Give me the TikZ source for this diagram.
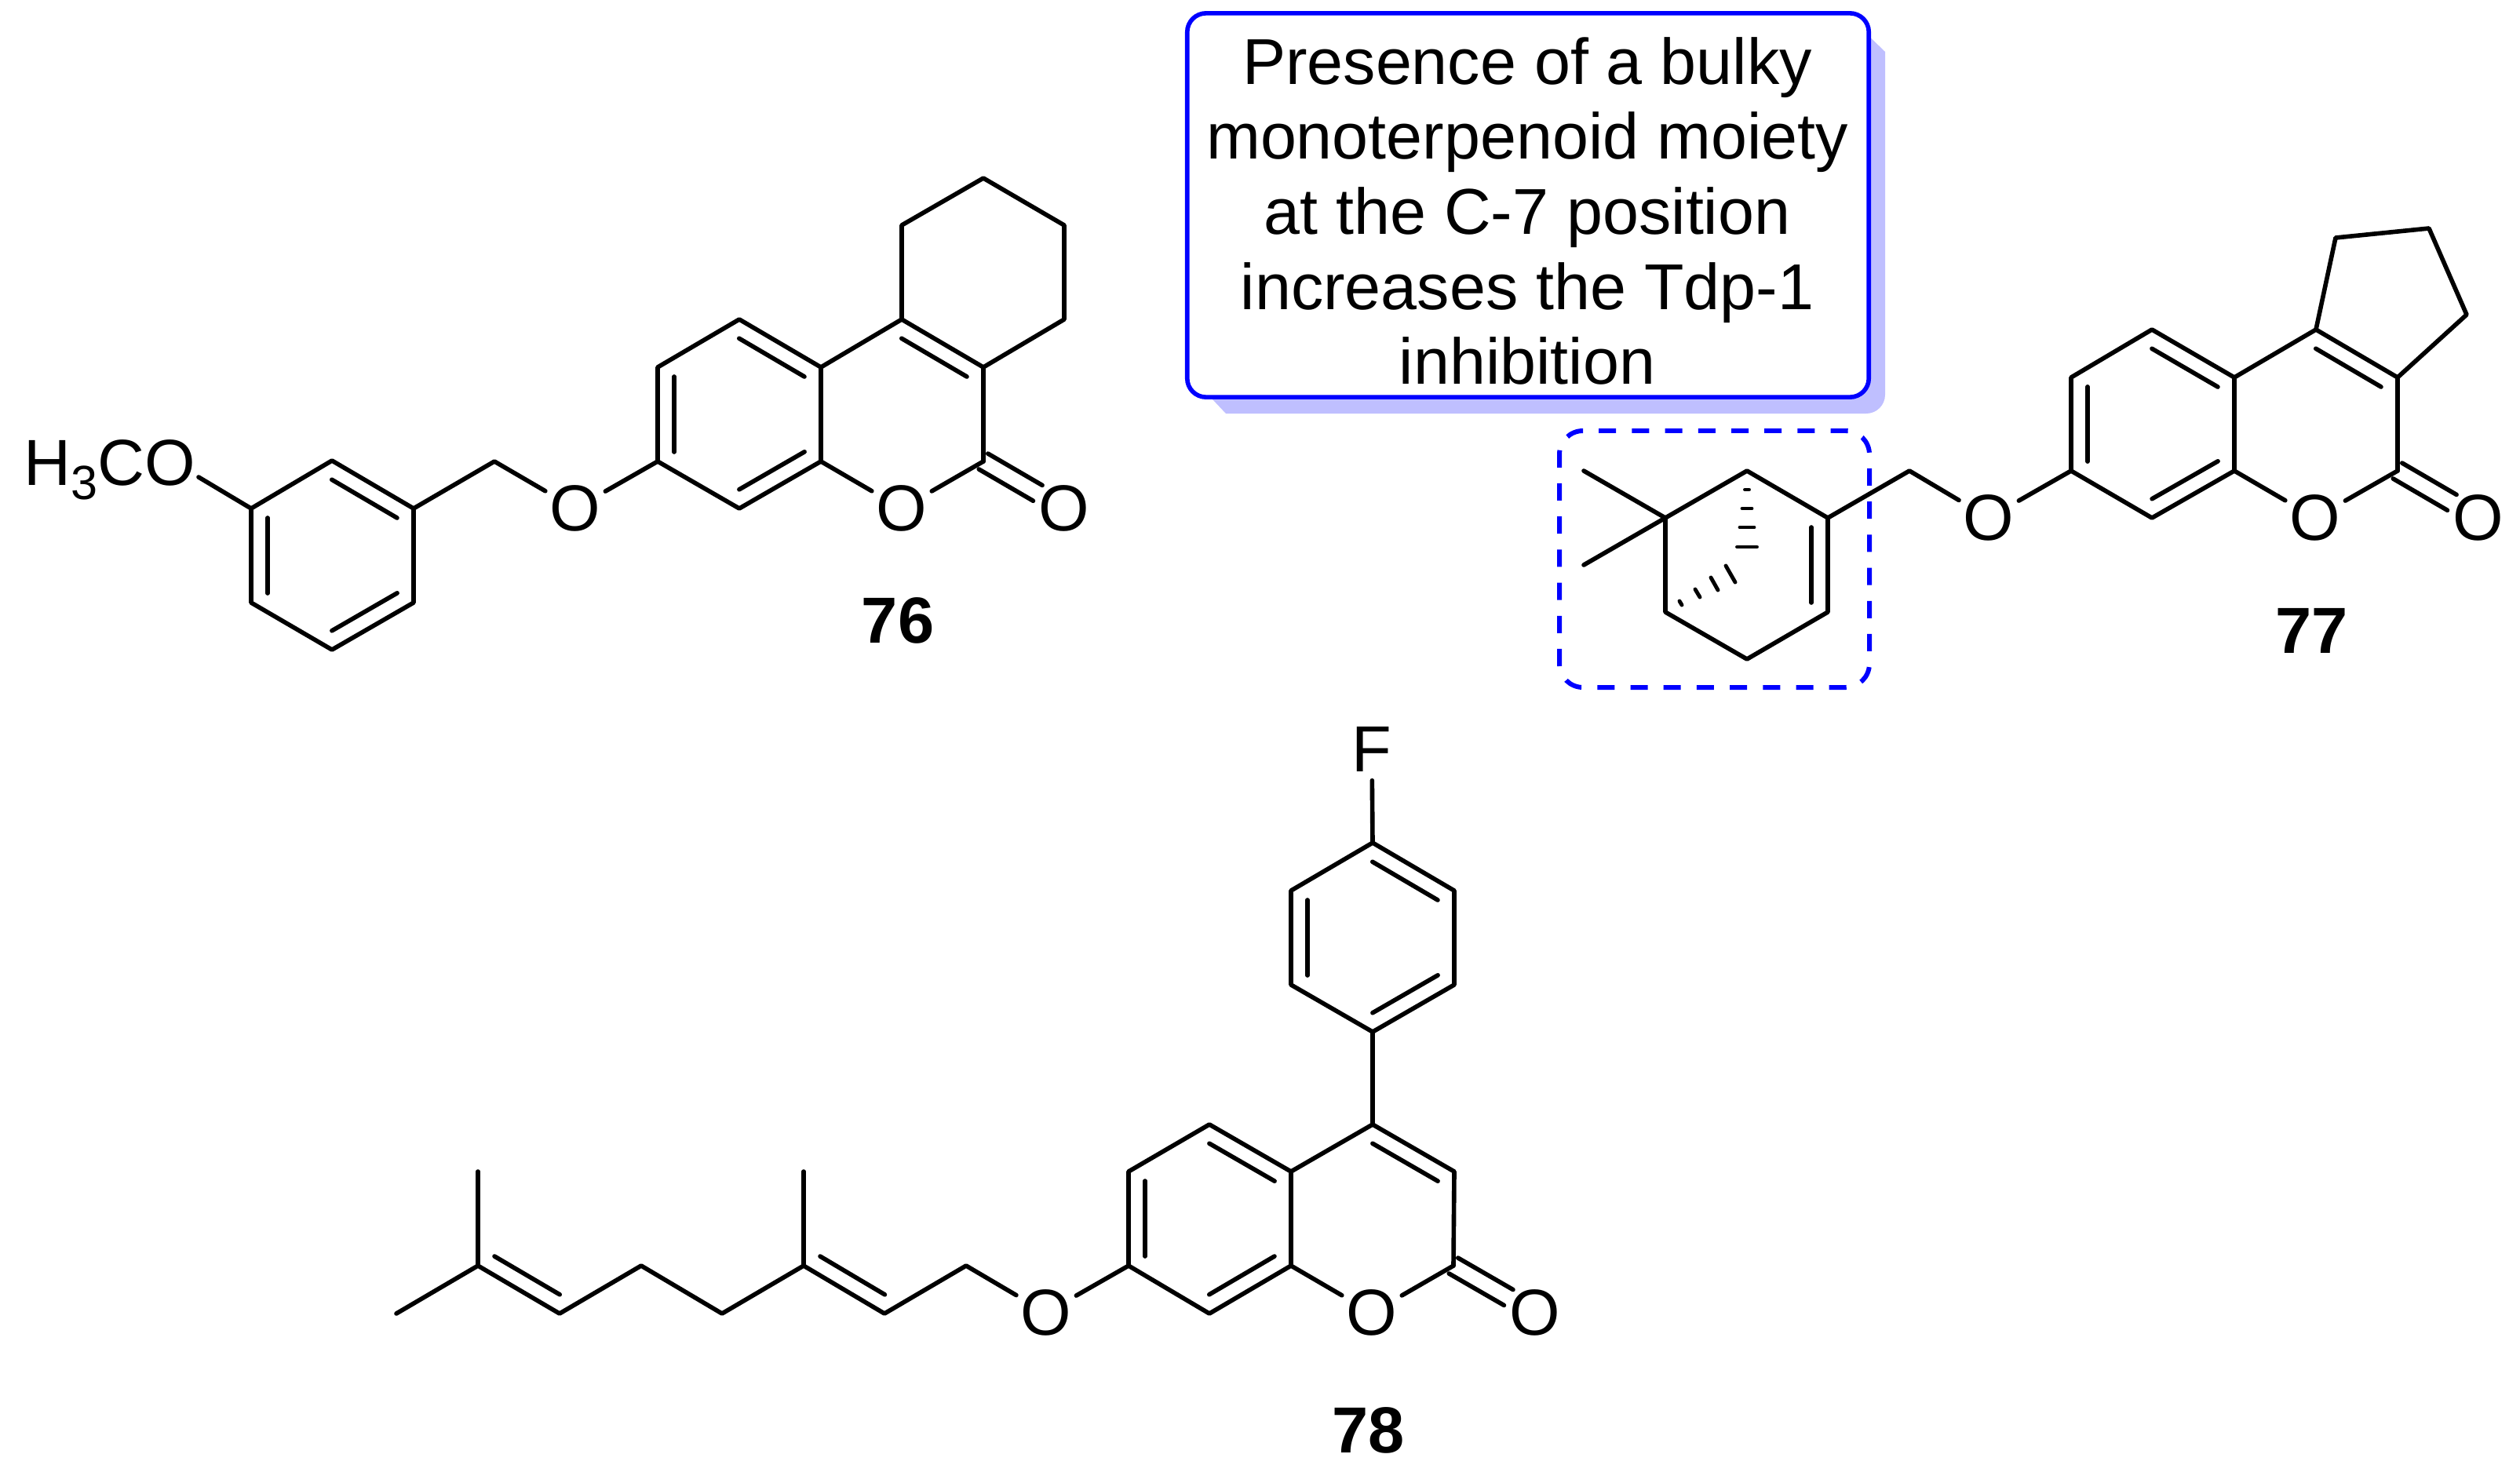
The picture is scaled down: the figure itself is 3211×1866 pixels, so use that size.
\documentclass[tikz,border=0pt]{standalone}
\usepackage{fontspec}
\setmainfont{Liberation Sans}
\usetikzlibrary{calc}

\definecolor{noteblue}{RGB}{0,0,255}
\definecolor{noteshadow}{RGB}{191,191,255}

\tikzset{
  bond/.style={line width=1.6pt,line cap=round,line join=round},
  atom/.style={circle,inner sep=0pt,minimum size=.78cm,font=\fontsize{23.6pt}{27pt}\selectfont},
  compound/.style={inner sep=0pt,font=\fontsize{23.6pt}{27pt}\selectfont\bfseries},
  notebox/.style={draw=noteblue,line width=1.6pt,rounded corners=.24cm,fill=white,
                  minimum width=8.68cm,minimum height=4.89cm,inner sep=0pt},
  notetext/.style={align=center,inner sep=0pt,font=\fontsize{23.5pt}{27.2pt}\selectfont},
  hashbar/.style={line width=1.4pt,line cap=round}
}

% inner line of a double bond, on the right of #1 -> #2
\newcommand{\dblbond}[2]{\draw[bond] ($(#1)!.1!(#2)!.21cm!-90:(#2)$) -- ($(#2)!.1!(#1)!.21cm!90:(#1)$);}
% C=O drawn as two lines around the axis
\newcommand{\carbonyl}[2]{
  \draw[bond] ($(#1)!.115cm!90:(#2)$) -- ($(#2)!.39cm!(#1)!.115cm!-90:(#1)$);
  \draw[bond] ($(#1)!.115cm!-90:(#2)$) -- ($(#2)!.39cm!(#1)!.115cm!90:(#1)$);}

\begin{document}
\begin{tikzpicture}[x=.01cm,y=-.01cm]
  \useasboundingbox (0,0) rectangle (3211,1866);

  % Compound 76
  \foreach \n/\x/\y in {a1/1253/227,a2/1356/287,a3/1356/407,a4/1253/468,a5/1149/407,a6/1149/287,
                        a7/1046/468,a8/942/407,a9/838/468,a10/838/588,a11/942/648,a12/1046/588,
                        a13/1253/588,a14/630/588,a15/527/648,a16/423/587,a17/320/648,a18/320/768,
                        a19/423/828,a20/527/768,a21/253/608}
    \coordinate (\n) at (\x,\y);
  \node[atom] (ao1) at (1149,648) {O};
  \node[atom] (ao2) at (1356,648) {O};
  \node[atom] (ao3) at (733,648) {O};
  \node[inner sep=0pt,anchor=base west,font=\fontsize{23.6pt}{27pt}\selectfont] (ome) at (29.5,618)
    {H\raisebox{-.18cm}{\fontsize{17.4pt}{17.4pt}\selectfont 3}CO};
  \node[compound] (n76) at (1144,791) {76};

  \draw[bond] (a5) -- (a6) -- (a1) -- (a2) -- (a3) -- (a4) -- (a5) -- (a7) -- (a8) -- (a9) -- (a10) -- (a11) -- (a12) -- (a7);
  \draw[bond] (a4) -- (a13);
  \draw[bond] (a12) -- (ao1);
  \draw[bond] (ao1) -- (a13);
  \draw[bond] (a10) -- (ao3);
  \draw[bond] (ao3) -- (a14) -- (a15) -- (a16) -- (a17) -- (a18) -- (a19) -- (a20) -- (a15);
  \draw[bond] (a17) -- (a21);
  \carbonyl{a13}{ao2}
  \dblbond{a8}{a7}
  \dblbond{a12}{a11}
  \dblbond{a10}{a9}
  \dblbond{a5}{a4}
  \dblbond{a16}{a15}
  \dblbond{a20}{a19}
  \dblbond{a18}{a17}

  % Note
  \fill[noteshadow] (1545,509) -- (1562,527) [rounded corners=.24cm] -- (2402,527) [sharp corners] -- (2402,66) -- (2371,36) -- cycle;
  \node[notebox] (note) at (1947,261.5) {};
  \node[notetext] (notetext) at (1946,269) {Presence of a bulky\\monoterpenoid moiety\\at the C-7 position\\increases the Tdp-1\\inhibition};

  % Compound 77
  \foreach \n/\x/\y in {b1/2976/303,b2/3095/291,b3/3143/401,b4/3055/481,b5/2951/420,b6/2847/481,
                        b7/2742/420,b8/2639/481,b9/2639/600,b10/2742/660,b11/2847/600,b12/3055/600,
                        b13/2433/600,b14/2329/660,b15/2226/600,b16/2122/660,b17/2122/780,b18/2226/840,
                        b19/2329/780,b20/2018/600,b21/2018/720}
    \coordinate (\n) at (\x,\y);
  \node[atom] (bo1) at (2950,660) {O};
  \node[atom] (bo2) at (3158,660) {O};
  \node[atom] (bo3) at (2534,660) {O};
  \node[compound] (n77) at (2945.5,804) {77};

  \draw[bond] (b5) -- (b1) -- (b2) -- (b3) -- (b4) -- (b5) -- (b6) -- (b7) -- (b8) -- (b9) -- (b10) -- (b11) -- (b6);
  \draw[bond] (b4) -- (b12);
  \draw[bond] (b11) -- (bo1);
  \draw[bond] (bo1) -- (b12);
  \draw[bond] (b9) -- (bo3);
  \draw[bond] (bo3) -- (b13) -- (b14) -- (b15) -- (b16) -- (b17) -- (b18) -- (b19) -- (b14);
  \draw[bond] (b20) -- (b16) -- (b21);
  \carbonyl{b12}{bo2}
  \dblbond{b7}{b6}
  \dblbond{b11}{b10}
  \dblbond{b9}{b8}
  \dblbond{b5}{b4}
  \dblbond{b14}{b19}

  % Hashed bridge
  \foreach \y/\w in {624/2.5,648/6,672/9,697/12.5}
    \draw[hashbar] (2226-\w,\y) -- (2226+\w,\y);
  \foreach \xa/\ya/\xb/\yb in {2140/766/2143/771,2160/751/2166/761,2180/736/2189/752,2199/721/2211/742}
    \draw[hashbar] (\xa,\ya) -- (\xb,\yb);

  % Dashed frame
  \draw[noteblue,line width=1.7pt,rounded corners=.3cm,dash pattern=on .22cm off .2018cm,dash phase=.22cm]
    (2017,549) -- (2382,549) -- (2382,876) -- (1987,876) -- (1987,549) -- (2017,549);

  % Compound 78
  \foreach \n/\x/\y in {c1/1749/1074,c2/1853/1135,c3/1853/1255,c4/1749/1315,c5/1645/1255,c6/1645/1135,
                        c7/1749/1433,c8/1853/1493,c9/1852/1613,c10/1645/1493,c11/1645/1613,c12/1541/1433,
                        c13/1438/1493,c14/1438/1613,c15/1541/1674,c16/1231/1613,c17/1127/1674,c18/1024/1613,
                        c19/1024/1493,c20/920/1674,c21/817/1613,c22/713/1674,c23/609/1613,c24/609/1493,c25/505/1674}
    \coordinate (\n) at (\x,\y);
  \node[atom] (cf) at (1748,955) {F};
  \node[atom] (co1) at (1748,1673) {O};
  \node[atom] (co2) at (1956,1673) {O};
  \node[atom] (co3) at (1333,1673) {O};
  \node[compound] (n78) at (1743.5,1823) {78};

  \draw[bond] (cf) -- (c1);
  \draw[bond] (c1) -- (c2) -- (c3) -- (c4) -- (c5) -- (c6) -- (c1);
  \draw[bond] (c4) -- (c7) -- (c8) -- (c9);
  \draw[bond] (c7) -- (c10) -- (c12) -- (c13) -- (c14) -- (c15) -- (c11) -- (c10);
  \draw[bond] (c11) -- (co1);
  \draw[bond] (co1) -- (c9);
  \draw[bond] (c14) -- (co3);
  \draw[bond] (co3) -- (c16) -- (c17) -- (c18) -- (c20) -- (c21) -- (c22) -- (c23) -- (c25);
  \draw[bond] (c18) -- (c19);
  \draw[bond] (c23) -- (c24);
  \carbonyl{c9}{co2}
  \dblbond{c1}{c2}
  \dblbond{c3}{c4}
  \dblbond{c5}{c6}
  \dblbond{c7}{c8}
  \dblbond{c12}{c10}
  \dblbond{c11}{c15}
  \dblbond{c14}{c13}
  \dblbond{c17}{c18}
  \dblbond{c22}{c23}
\end{tikzpicture}
\end{document}
